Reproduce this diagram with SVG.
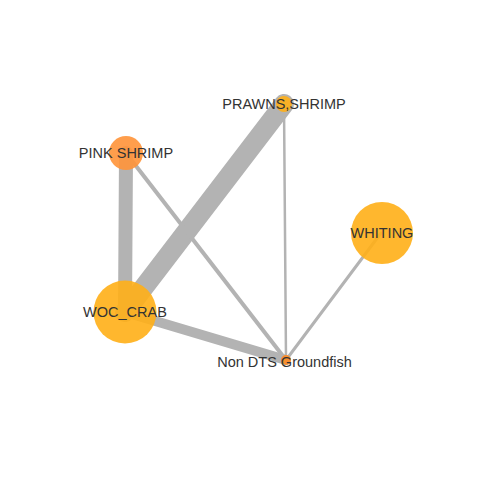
<svg xmlns="http://www.w3.org/2000/svg" width="480" height="480" viewBox="0 0 480 480">
<style>
.e{stroke:#b3b3b3;stroke-linecap:round;fill:none}
.n{fill-opacity:0.9}
.t{font-family:"Liberation Sans",Arial,sans-serif;font-size:14.5px;fill:#333333;text-anchor:middle}
</style>
<rect width="480" height="480" fill="#ffffff"/>
<g id="connectors">
<line class="e" x1="125" y1="312" x2="126" y2="153" stroke-width="14"/>
<line class="e" x1="125" y1="312" x2="284" y2="104" stroke-width="20"/>
<line class="e" x1="125" y1="312" x2="286" y2="360" stroke-width="10"/>
<line class="e" x1="126" y1="153" x2="286" y2="360" stroke-width="4"/>
<line class="e" x1="284" y1="104" x2="286" y2="360" stroke-width="2.5"/>
<line class="e" x1="381" y1="233" x2="286" y2="360" stroke-width="3"/>
</g>
<g id="node-prawns"><circle class="n" cx="284" cy="104" r="8" fill="#FFAF17"/><text class="t" x="284" y="109">PRAWNS,SHRIMP</text></g>
<g id="node-pink"><circle class="n" cx="126" cy="153" r="17" fill="#FF9339"/><text class="t" x="126" y="158">PINK SHRIMP</text></g>
<g id="node-whiting"><circle class="n" cx="382" cy="233" r="31" fill="#FFAF17"/><text class="t" x="382" y="238">WHITING</text></g>
<g id="node-woc"><circle class="n" cx="125" cy="312" r="31.5" fill="#FFAF17"/><text class="t" x="125" y="317">WOC_CRAB</text></g>
<g id="node-nondts"><circle class="n" cx="286" cy="360" r="5" fill="#FF8A1F"/><text class="t" x="284.5" y="367">Non DTS Groundfish</text></g>
</svg>
